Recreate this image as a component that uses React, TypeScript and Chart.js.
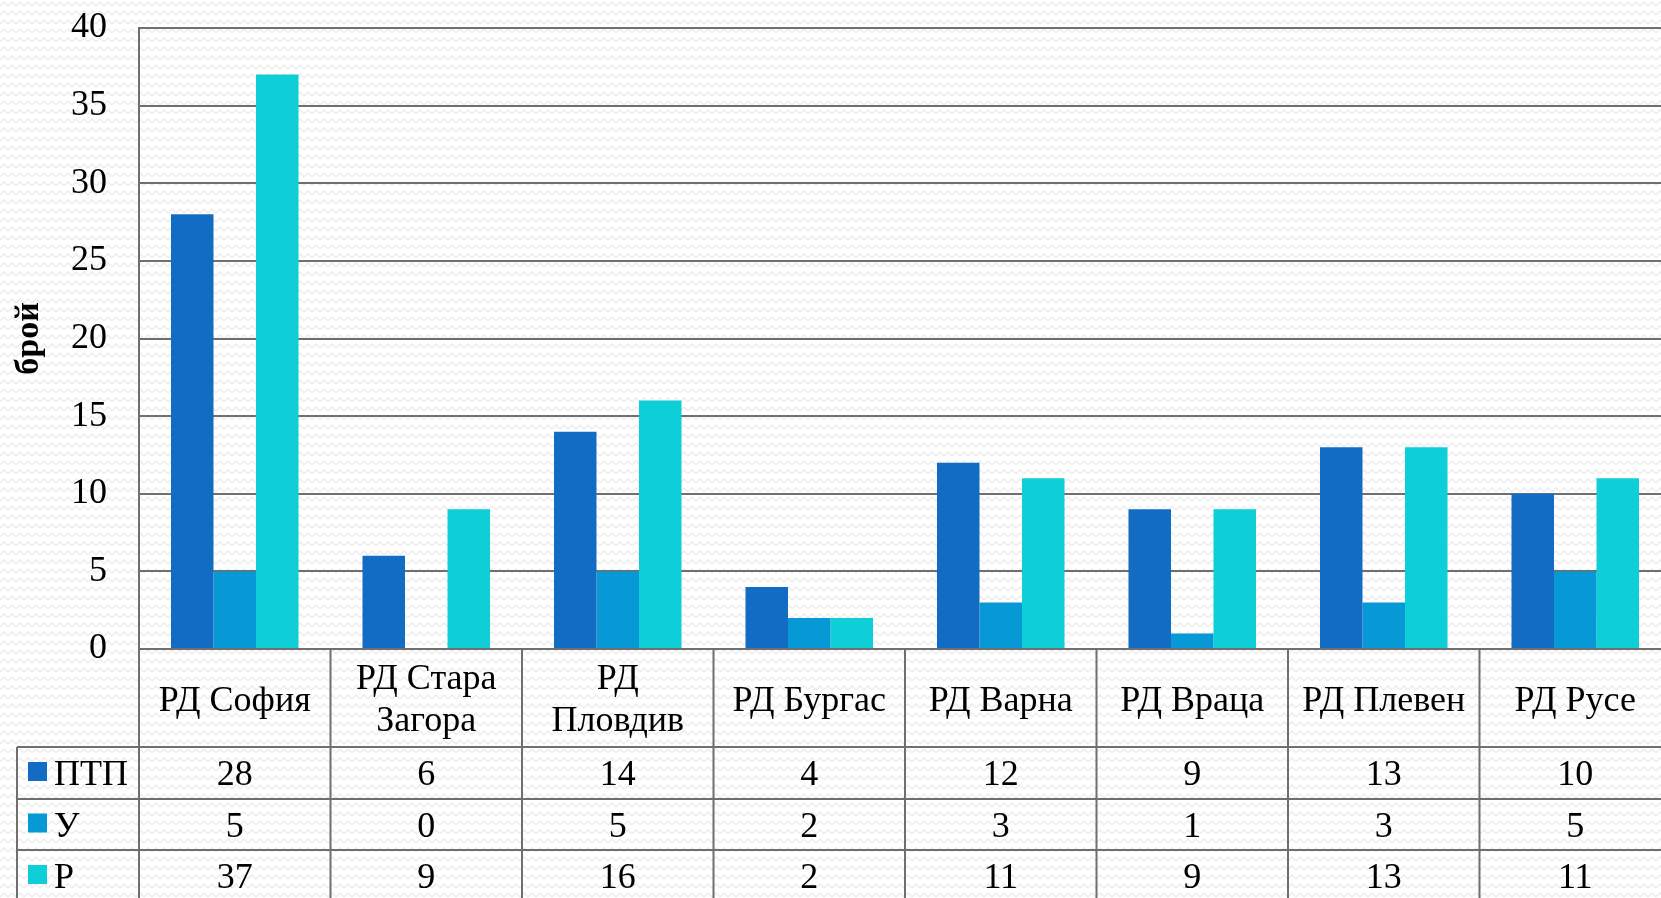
import React, { useEffect, useRef } from "react";
import { Chart, registerables } from "chart.js";

Chart.register(...registerables);

// ---- Data ----
const categories: string[] = [
  "РД София",
  "РД Стара Загора",
  "РД Пловдив",
  "РД Бургас",
  "РД Варна",
  "РД Враца",
  "РД Плевен",
  "РД Русе",
];
const categoryLines: string[][] = [
  ["РД София"],
  ["РД Стара", "Загора"],
  ["РД", "Пловдив"],
  ["РД Бургас"],
  ["РД Варна"],
  ["РД Враца"],
  ["РД Плевен"],
  ["РД Русе"],
];
const seriesNames: string[] = ["ПТП", "У", "Р"];
const ptpValues: number[] = [28, 6, 14, 4, 12, 9, 13, 10];
const uValues: number[] = [5, 0, 5, 2, 3, 1, 3, 5];
const rValues: number[] = [37, 9, 16, 2, 11, 9, 13, 11];
const seriesColors: string[] = ["#126CC4", "#0699D5", "#0ECFD8"];
const yAxisTitle = "брой";
const yMin = 0;
const yMax = 40;
const yStep = 5;

const FONT = '"Liberation Serif", "Times New Roman", serif';
const GRID = "#6f6f6f";
const TEXT_SIZE = 36;

const tablePlugin = {
  id: "dataTable",
  afterDraw(chart: any) {
    const ctx: CanvasRenderingContext2D = chart.ctx;
    const { left, right, bottom } = chart.chartArea;
    const xs = chart.scales.x;
    const n = categories.length;
    const w = (right - left) / n;
    const legendLeft = 17;
    const lines = [bottom + 98, bottom + 150, bottom + 201, bottom + 253];
    const canvasBottom = chart.height + 10;
    const allSeries = [ptpValues, uValues, rValues];

    ctx.save();
    ctx.strokeStyle = GRID;
    ctx.lineWidth = 2;
    ctx.beginPath();
    ctx.moveTo(left, bottom);
    ctx.lineTo(right, bottom);
    for (const y of lines) {
      ctx.moveTo(legendLeft, y);
      ctx.lineTo(right, y);
    }
    for (let i = 0; i <= n; i++) {
      const x = left + i * w;
      ctx.moveTo(x, bottom);
      ctx.lineTo(x, canvasBottom);
    }
    ctx.moveTo(legendLeft, lines[0]);
    ctx.lineTo(legendLeft, canvasBottom);
    ctx.stroke();

    ctx.fillStyle = "#000";
    ctx.font = `${TEXT_SIZE}px ${FONT}`;
    ctx.textAlign = "center";
    ctx.textBaseline = "alphabetic";
    for (let i = 0; i < n; i++) {
      const cx = xs.getPixelForValue(i);
      const ls = categoryLines[i];
      if (ls.length === 1) {
        ctx.fillText(ls[0], cx, bottom + 62);
      } else {
        ctx.fillText(ls[0], cx, bottom + 40);
        ctx.fillText(ls[1], cx, bottom + 82);
      }
    }
    const rowTops = [lines[0], lines[1], lines[2]];
    const rowBottoms = [lines[1], lines[2], lines[3]];
    for (let s = 0; s < seriesNames.length; s++) {
      const cy = (rowTops[s] + rowBottoms[s]) / 2;
      ctx.textAlign = "center";
      ctx.fillStyle = "#000";
      for (let i = 0; i < n; i++) {
        const cx = xs.getPixelForValue(i);
        ctx.fillText(String(allSeries[s][i]), cx, cy + 12);
      }
      ctx.fillStyle = seriesColors[s];
      ctx.fillRect(28, cy - 11, 19, 19);
      ctx.fillStyle = "#000";
      ctx.textAlign = "left";
      ctx.fillText(seriesNames[s], 54, cy + 12);
    }
    ctx.restore();
  },
};

const bgPattern =
  "url(\"data:image/svg+xml;utf8,<svg xmlns='http://www.w3.org/2000/svg' width='8' height='9'><polyline points='0,6 4,2 8,6' fill='none' stroke='%23ececec' stroke-width='1.4'/></svg>\")";

export default function App() {
  const canvasRef = useRef<HTMLCanvasElement | null>(null);

  useEffect(() => {
    if (!canvasRef.current) return;
    const chart = new Chart(canvasRef.current, {
      type: "bar",
      data: {
        labels: categories,
        datasets: [
          { label: seriesNames[0], data: ptpValues, backgroundColor: seriesColors[0] },
          { label: seriesNames[1], data: uValues, backgroundColor: seriesColors[1] },
          { label: seriesNames[2], data: rValues, backgroundColor: seriesColors[2] },
        ].map((d) => ({ ...d, barPercentage: 1, categoryPercentage: 0.666, borderWidth: 0 })),
      },
      options: {
        responsive: false,
        animation: false,
        layout: { padding: { left: 0, top: 28, right: 9, bottom: 249 } },
        plugins: {
          legend: { display: false },
          tooltip: { enabled: false },
        },
        scales: {
          x: { display: false },
          y: {
            min: yMin,
            max: yMax,
            ticks: {
              stepSize: yStep,
              padding: 5,
              color: "#000",
              font: { family: FONT, size: TEXT_SIZE },
            },
            grid: {
              color: GRID,
              lineWidth: 2,
              drawTicks: true,
              tickLength: 27,
              tickColor: "rgba(0,0,0,0)",
            },
            border: { color: GRID, width: 2 },
            title: {
              display: true,
              text: yAxisTitle,
              color: "#000",
              font: { family: FONT, size: 34, weight: "bold" },
              padding: { top: 9, bottom: 0 },
            },
            afterFit: (scale: any) => {
              scale.width = 139;
            },
          },
        },
      },
      plugins: [tablePlugin],
    } as any);
    return () => chart.destroy();
  }, []);

  return (
    <div
      style={{
        position: "fixed",
        left: 0,
        top: 0,
        width: 1661,
        height: 898,
        overflow: "hidden",
        backgroundColor: "#ffffff",
        backgroundImage: bgPattern,
      }}
    >
      <canvas ref={canvasRef} width={1680} height={898} style={{ display: "block" }} />
    </div>
  );
}
